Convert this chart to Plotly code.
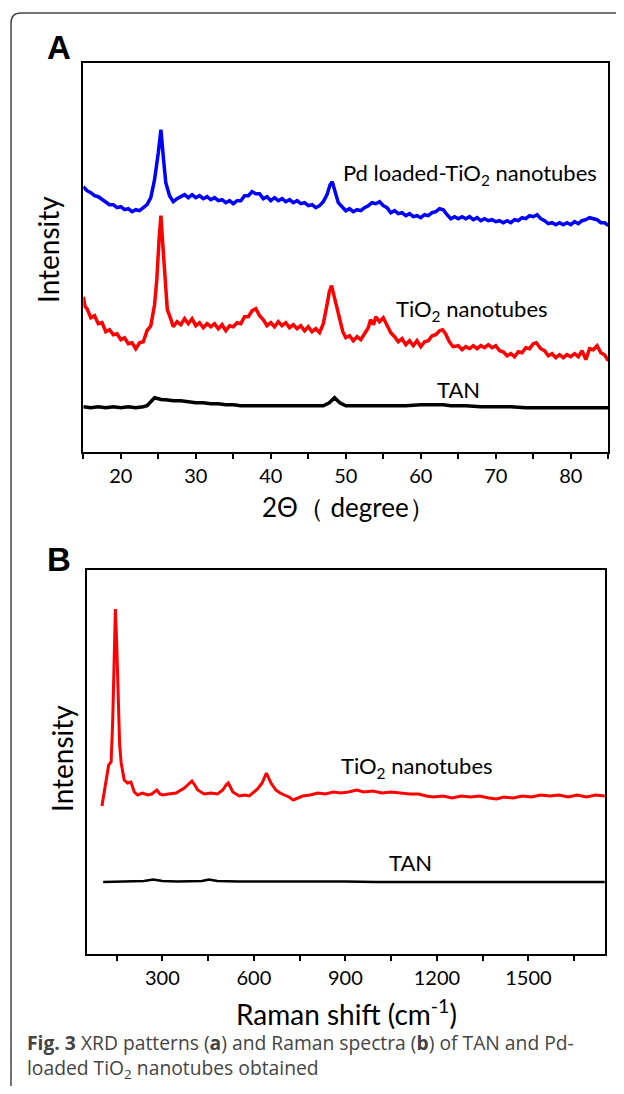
import plotly.graph_objects as go

# ---------------- Panel A : XRD (2theta in degree, intensity a.u.) ----------------
xrd_pd_x = [15, 15.5, 16, 16.5, 17, 17.5, 18, 18.5, 19, 19.5, 20, 20.5, 21, 21.5, 22, 22.5, 23, 23.5, 24, 24.5,
            25, 25.35, 25.7, 26, 26.5, 27, 27.5, 28, 28.5, 29, 29.5, 30, 30.5, 31, 31.5, 32, 32.5, 33, 33.5, 34,
            34.5, 35, 35.5, 36, 36.5, 37, 37.5, 38, 38.5, 39, 39.5, 40, 40.5, 41, 41.5, 42, 42.5, 43, 43.5, 44,
            44.5, 45, 45.5, 46, 46.5, 47, 47.5, 47.9, 48.2, 48.5, 49, 49.5, 50, 50.5, 51, 51.5, 52, 52.5, 53, 53.5,
            54, 54.5, 55, 55.5, 56, 56.5, 57, 57.5, 58, 58.5, 59, 59.5, 60, 60.5, 61, 61.5, 62, 62.5, 63, 63.5,
            64, 64.5, 65, 65.5, 66, 66.5, 67, 67.5, 68, 68.5, 69, 69.5, 70, 70.5, 71, 71.5, 72, 72.5, 73, 73.5,
            74, 74.5, 75, 75.5, 76, 76.5, 77, 77.5, 78, 78.5, 79, 79.5, 80, 80.5, 81, 81.5, 82, 82.5, 83, 83.5,
            84, 84.5, 85]
xrd_pd_y = [265, 261, 259, 256, 255, 252, 250, 247, 247, 244, 245, 242, 243, 240, 242, 241, 244, 247, 254, 272,
            299, 322, 292, 269, 256, 250, 253, 255, 257, 254, 257, 254, 256, 253, 255, 252, 254, 251, 252, 249,
            251, 248, 251, 251, 256, 256, 260, 258, 258, 253, 255, 251, 254, 251, 253, 250, 252, 249, 251, 248,
            249, 246, 247, 244, 246, 250, 257, 267, 270, 262, 249, 245, 241, 243, 240, 242, 241, 244, 246, 249,
            248, 250, 246, 244, 239, 241, 238, 239, 236, 238, 235, 236, 234, 237, 236, 239, 240, 243, 242, 237,
            233, 235, 233, 235, 233, 235, 232, 234, 231, 233, 231, 232, 230, 231, 229, 231, 229, 232, 231, 234,
            233, 236, 235, 237, 233, 231, 228, 229, 227, 229, 227, 229, 227, 230, 228, 231, 232, 234, 233, 232,
            229, 229, 226]

xrd_tio2_x = [15, 15.25, 15.5, 16, 16.5, 17, 17.5, 18, 18.5, 19, 19.5, 20, 20.5, 21, 21.5, 22, 22.5, 23, 23.5, 24,
              24.5, 24.8, 25.1, 25.35, 25.6, 25.9, 26.2, 26.6, 27, 27.5, 28, 28.5, 29, 29.5, 30, 30.5, 31, 31.5, 32,
              32.5, 33, 33.5, 34, 34.5, 35, 35.5, 36, 36.5, 37, 37.5, 38, 38.5, 39, 39.5, 40, 40.5, 41, 41.5, 42,
              42.5, 43, 43.5, 44, 44.5, 45, 45.5, 46, 46.5, 47, 47.5, 47.8, 48.1, 48.4, 48.8, 49.2, 49.6, 50, 50.5,
              51, 51.5, 52, 52.5, 53, 53.3, 53.7, 54, 54.5, 55, 55.5, 56, 56.5, 57, 57.5, 58, 58.5, 59, 59.5, 60,
              60.5, 61, 61.5, 62, 62.5, 62.9, 63.3, 63.8, 64.3, 65, 65.5, 66, 66.5, 67, 67.5, 68, 68.5, 69, 69.5,
              70, 70.5, 71, 71.5, 72, 72.5, 73, 73.5, 74, 74.5, 75, 75.4, 76, 76.5, 77, 77.5, 78, 78.5, 79, 79.5,
              80, 80.5, 81, 81.5, 82, 82.5, 83, 83.5, 84, 84.5, 85]
xrd_tio2_y = [155, 145, 143, 134, 136, 128, 129, 120, 122, 117, 118, 112, 114, 108, 109, 103, 109, 110, 121, 126,
              147, 172, 212, 236, 207, 167, 142, 134, 125, 130, 127, 133, 128, 133, 126, 129, 124, 128, 125,
              128, 123, 127, 121, 126, 125, 129, 128, 135, 135, 141, 143, 136, 132, 126, 129, 125, 130, 126, 129,
              124, 127, 123, 126, 121, 125, 120, 123, 119, 128, 147, 160, 166, 157, 142, 130, 120, 114, 116,
              111, 115, 112, 118, 124, 132, 127, 135, 130, 134, 126, 119, 115, 110, 113, 107, 111, 106, 111, 105,
              110, 111, 116, 117, 121, 122, 118, 110, 105, 106, 102, 105, 103, 106, 103, 106, 104, 107, 104,
              106, 101, 100, 96, 98, 95, 100, 99, 104, 103, 108, 109, 103, 101, 96, 98, 94, 97, 94, 97,
              95, 98, 95, 101, 92, 103, 102, 106, 99, 97, 91]

xrd_tan_x = [15, 16, 17, 18, 19, 20, 21, 22, 23, 23.5, 24, 24.5, 25, 25.5, 26, 27, 28, 29, 30, 31, 32, 33, 34, 35,
             36, 38, 40, 42, 44, 46, 47, 47.8, 48.5, 49.2, 50, 52, 54, 56, 58, 60, 62, 63, 64, 66, 68, 70, 72, 74,
             76, 78, 80, 82, 85]
xrd_tan_y = [45, 44, 45, 44, 45, 44, 45, 44, 45, 46, 50, 54, 53, 52, 52, 51, 51, 50, 49, 49, 48, 48, 47, 47,
             46, 46, 46, 46, 46, 46, 46, 49, 54, 49, 46, 46, 46, 46, 46, 47, 47, 47, 46, 46, 45, 45, 45, 44,
             44, 44, 44, 44, 44]

# ---------------- Panel B : Raman (cm-1, intensity a.u.) ----------------
raman_tio2_x = [102, 116, 124, 132, 137, 142, 146, 150, 155, 160, 165, 175, 186, 197, 208, 219, 235, 252, 265, 282,
                292, 301, 320, 345, 372, 385, 397, 408, 416, 437, 460, 481, 498, 509, 516, 523, 531, 552, 570, 585,
                600, 612, 627, 641, 650, 656, 672, 686, 700, 715, 729, 745, 760, 784, 810, 835, 860, 885, 910, 937,
                960, 990, 1020, 1050, 1078, 1110, 1140, 1165, 1188, 1220, 1250, 1280, 1310, 1340, 1370, 1395, 1420,
                1450, 1480, 1510, 1540, 1570, 1600, 1630, 1660, 1690, 1720, 1750]
raman_tio2_y = [148, 177, 189, 192, 231, 294, 345, 314, 247, 209, 191, 174, 171, 172, 162, 159, 161, 159, 160, 164,
                160, 159, 160, 161, 166, 170, 173, 168, 164, 160, 161, 160, 164, 169, 171, 167, 162, 158, 159, 158,
                162, 165, 171, 181, 175, 171, 164, 161, 159, 157, 154, 156, 158, 159, 161, 160, 162, 161, 162, 164,
                162, 163, 161, 162, 161, 160, 160, 158, 157, 158, 156, 158, 157, 158, 156, 155, 157,
                156, 158, 157, 159, 158, 159, 157, 159, 157, 159, 158]

raman_tan_x = [106, 150, 200, 240, 270, 300, 350, 400, 430, 453, 480, 550, 650, 700, 800, 900, 1000, 1100, 1200, 1300,
               1400, 1500, 1600, 1750]
raman_tan_y = [72, 72.5, 72.5, 73, 74.5, 73, 72.5, 72.5, 73, 74.5, 73, 72.5, 72.5, 73, 72.5, 72.5, 72, 72, 72, 72,
               72, 72, 72, 72]

# page body has an 8 px default margin: the figure covers page pixels 8..616 x 8..1086
OFF = 8
W, H = 624 - 2 * OFF, 1094 - 2 * OFF
def px(x):
    return (x - OFF) / W
def py(y):
    return 1 - (y - OFF) / H

CHART_FONT = "Lato"
fig = go.Figure()

fig.add_trace(go.Scatter(x=xrd_pd_x, y=xrd_pd_y, mode="lines", line=dict(color="#0000FF", width=3.5),
                         xaxis="x", yaxis="y", showlegend=False))
fig.add_trace(go.Scatter(x=xrd_tio2_x, y=xrd_tio2_y, mode="lines", line=dict(color="#FF0000", width=3.5),
                         xaxis="x", yaxis="y", showlegend=False))
fig.add_trace(go.Scatter(x=xrd_tan_x, y=xrd_tan_y, mode="lines", line=dict(color="#000000", width=3.5),
                         xaxis="x", yaxis="y", showlegend=False))
fig.add_trace(go.Scatter(x=raman_tio2_x, y=raman_tio2_y, mode="lines", line=dict(color="#FF0000", width=3),
                         xaxis="x2", yaxis="y2", showlegend=False))
fig.add_trace(go.Scatter(x=raman_tan_x, y=raman_tan_y, mode="lines", line=dict(color="#000000", width=2.5),
                         xaxis="x2", yaxis="y2", showlegend=False))

axis_common = dict(showline=True, linecolor="black", linewidth=2, mirror=True, showgrid=False, zeroline=False)
tickfont = dict(family=CHART_FONT, size=20, color="black")

fig.update_layout(
    width=W, height=H, margin=dict(l=0, r=0, t=0, b=0),
    paper_bgcolor="white", plot_bgcolor="white",
    xaxis=dict(domain=[px(83.3), px(608.3)], range=[15, 85], anchor="y", tickmode="linear", tick0=0, dtick=10,
               ticks="outside", ticklen=5, tickwidth=2, tickcolor="black", tickfont=tickfont,
               minor=dict(ticks="outside", dtick=5, tick0=0, ticklen=5, tickwidth=2, tickcolor="black"),
               **axis_common),
    yaxis=dict(domain=[py(451.7), py(62.7)], range=[0, 389], anchor="x", showticklabels=False, ticks="",
               **axis_common),
    xaxis2=dict(domain=[px(86.7), px(605)], range=[52, 1751], anchor="y2", tickmode="linear", tick0=0, dtick=300,
                ticks="outside", ticklen=5, tickwidth=2, tickcolor="black", tickfont=tickfont,
                minor=dict(ticks="outside", dtick=150, tick0=0, ticklen=5, tickwidth=2, tickcolor="black"),
                **axis_common),
    yaxis2=dict(domain=[py(954), py(570)], range=[0, 384], anchor="x2", showticklabels=False, ticks="",
                **axis_common),
)

ann = []
def add_text(text, x, y, size, xanchor="center", yanchor="middle", angle=0, family=CHART_FONT, color="black"):
    ann.append(dict(text=text, x=px(x), y=py(y), xref="paper", yref="paper", showarrow=False,
                    xanchor=xanchor, yanchor=yanchor, textangle=angle, align="left",
                    font=dict(family=family, size=size, color=color)))

# panel letters
add_text("<b>A</b>", 58.5, 47, 33, family="Liberation Sans")
add_text("<b>B</b>", 58.5, 559, 33, family="Liberation Sans")
# axis titles
add_text("Intensity", 48, 250, 28, angle=-90)
add_text("Intensity", 62, 759, 28, angle=-90)
add_text("2Θ（ degree）", 348, 507, 26)
add_text("Raman shift (cm<sup>-1</sup>)", 346.5, 1012, 28)
# series labels
add_text("Pd loaded-TiO<sub>2</sub> nanotubes", 341, 174, 22, xanchor="left")
add_text("TiO<sub>2</sub> nanotubes", 394, 310, 22, xanchor="left")
add_text("TAN", 435, 389, 22, xanchor="left")
add_text("TiO<sub>2</sub> nanotubes", 339, 767, 22, xanchor="left")
add_text("TAN", 387, 862.5, 22, xanchor="left")
# caption (two lines in one text block)
add_text("<b>Fig. 3</b> XRD patterns (<b>a</b>) and Raman spectra (<b>b</b>) of TAN and Pd-<br>"
         "loaded TiO<sub>2</sub> nanotubes obtained", 25, 1085, 19.3,
         xanchor="left", yanchor="bottom", family="Open Sans", color="#444444")
fig.update_layout(annotations=ann)

# rounded outer frame
r = 10
path = (f"M {px(11)},{py(1110)} L {px(11)},{py(13 + r)} Q {px(11)},{py(13)} {px(11 + r)},{py(13)} "
        f"L {px(640)},{py(13)}")
fig.add_shape(type="path", path=path, xref="paper", yref="paper", line=dict(color="#444444", width=1.5))

fig.write_html("out.html")
